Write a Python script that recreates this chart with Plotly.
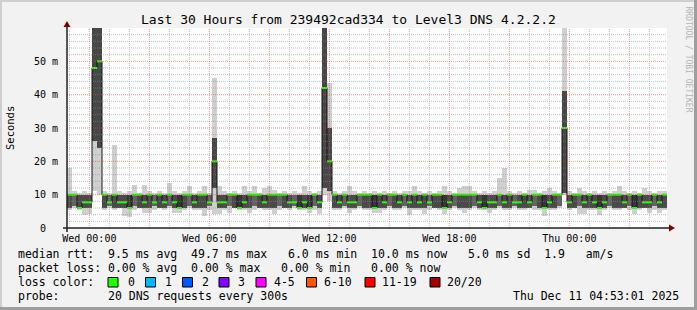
import plotly.graph_objects as go
from datetime import datetime, timedelta

# ---------------- data ----------------
T_START = datetime(2025, 12, 9, 22, 53, 1)
T_END = datetime(2025, 12, 11, 4, 53, 1)
STEP_MIN = 15  # one column per 15 minutes

median_ms = [
    10, 10, 6, 7.7, 7.7, 48, 50, 10, 7.7, 10,
    7.7, 7.7, 6, 10, 10, 7.7, 10, 7.7, 10, 7.7,
    10, 7.7, 6, 10, 10, 7.7, 10, 10, 7.7, 20,
    7.7, 7.7, 10, 10, 6, 7.7, 10, 10, 10, 7.7,
    10, 10, 10, 10, 7.7, 7.7, 6, 7.7, 6, 10,
    7.7, 42, 20, 10, 7.7, 10, 7.7, 7.7, 10, 10,
    10, 6, 10, 7.7, 10, 10, 7.7, 10, 7.7, 10,
    7.7, 10, 7.7, 10, 10, 6, 7.7, 10, 10, 10,
    10, 10, 7.7, 6, 7.7, 7.7, 10, 7.7, 10, 7.7,
    7.7, 10, 7.7, 10, 10, 6, 7.7, 10, 10, 30,
    7.7, 10, 10, 7.7, 10, 7.7, 6, 7.7, 10, 10,
    10, 7.7, 10, 6, 10, 7.7, 7.7, 10, 7.7, 10,
]

high_ms = [
    18, 11, 10.5, 11, 10.5, 65, 65, 11, 10.5, 25,
    11, 10.5, 11, 13, 10.5, 13, 11, 10.5, 11, 10.5,
    13.5, 11, 10.5, 11, 12.5, 10.5, 11, 12.5, 10.5, 45,
    12.7, 11, 10.5, 11, 10.5, 12.5, 11, 12.5, 10.5, 12,
    12.5, 11.5, 10.5, 11, 10.5, 11, 10.5, 12.5, 11, 10.5,
    11, 65, 43.5, 11, 10.5, 11, 12.5, 11, 10.5, 11,
    10.5, 11, 10.5, 11, 10.5, 11, 10.5, 11, 11, 12.5,
    11, 10.5, 11, 10.5, 11, 12.5, 11, 10.5, 12, 12.5,
    12.5, 11, 10.5, 11, 10.5, 11, 15, 18, 11, 10.5,
    11, 10.5, 11.5, 11.5, 10.5, 11, 12, 11, 10.5, 65,
    11, 10.5, 12, 11, 10.5, 11, 10.5, 11, 10.5, 11,
    12.7, 11, 10.5, 11, 10.5, 12, 11, 10.5, 11, 11,
]

low_ms = [
    5.5, 6, 5.5, 4, 4.2, 11, 10, 5.5, 6, 5.5,
    6, 3.5, 3.2, 5.5, 6, 4.5, 4.5, 5.5, 6, 5.5,
    6, 4.5, 4.5, 5.5, 6, 5.5, 5.5, 3.5, 5.5, 4.2,
    4.2, 5.5, 4.5, 6, 5.5, 5.5, 4.5, 5.5, 6, 5.5,
    5.5, 4.3, 5.5, 6, 5.5, 6, 5.5, 5.5, 4.6, 5.5,
    4.3, 10, 8, 5.5, 5.5, 6, 4.5, 5.5, 6, 5.5,
    5.5, 4.5, 4.5, 5.5, 6, 5.5, 5.5, 6, 3.8, 5.5,
    5.5, 4.3, 5.5, 6, 5.5, 4.3, 5.5, 6, 5.5, 4.5,
    5.5, 6, 5.5, 5.5, 4.4, 5.5, 6, 5.5, 5.5, 6,
    5.5, 5.5, 6, 5.5, 5.5, 3.5, 5.5, 5.5, 6, 10,
    5.5, 6, 4.3, 4.3, 5.5, 5.5, 4, 5.5, 6, 5.5,
    5.5, 6, 5.5, 4.3, 5.5, 6, 4.5, 5.5, 4.5, 5.5,
]

q1_ms = [
    6, 6.5, 6, 6, 6, 26, 24, 6, 6.5, 6,
    6, 6, 5.8, 6.5, 6, 6, 6, 6.5, 6, 6,
    6.5, 6, 5.8, 6, 6.5, 6, 6, 6, 6.5, 12,
    6, 6, 6.5, 6, 5.8, 6, 6, 6.5, 6, 6,
    6, 6, 6.5, 6, 6, 6.5, 5.8, 6, 5.8, 6.5,
    6, 12, 11, 6, 6, 6.5, 6, 6, 6.5, 6,
    6, 5.8, 6, 6, 6.5, 6, 6, 6.5, 6, 6,
    6, 6, 6.5, 6, 6, 5.8, 6, 6.5, 6, 6,
    6, 6.5, 6, 5.8, 6, 6, 6.5, 6, 6, 6.5,
    6, 6, 6, 6.5, 6, 5.8, 6, 6, 6.5, 10.5,
    6, 6, 6.5, 6, 6, 6, 5.8, 6, 6.5, 6,
    6, 6, 6.5, 5.8, 6, 6, 6, 6.5, 6, 6,
]

q3_ms = [
    10, 10, 10, 10, 10, 62, 62, 10, 10, 10,
    10, 10, 10, 10, 10, 10, 10, 10, 10, 10,
    10, 10, 10, 10, 10, 10, 10, 10, 10, 27,
    10, 10, 10, 10, 10, 10, 10, 10, 10, 10,
    10, 10, 10, 10, 10, 10, 10, 10, 10, 10,
    10, 62, 30, 10, 10, 10, 10, 10, 10, 10,
    10, 10, 10, 10, 10, 10, 10, 10, 10, 10,
    10, 10, 10, 10, 10, 10, 10, 10, 10, 10,
    10, 10, 10, 10, 10, 10, 10, 10, 10, 10,
    10, 10, 10, 10, 10, 10, 10, 10, 10, 41,
    10, 10, 10, 10, 10, 10, 10, 10, 10, 10,
    10, 10, 10, 10, 10, 10, 10, 10, 10, 10,
]

x_tick_times = [datetime(2025, 12, 10, 0), datetime(2025, 12, 10, 6), datetime(2025, 12, 10, 12),
                datetime(2025, 12, 10, 18), datetime(2025, 12, 11, 0)]
y_tick_values = [0, 10, 20, 30, 40, 50]
y_tick_labels = ["0\u00a0\u00a0", "10 m", "20 m", "30 m", "40 m", "50 m"]

title_text = "Last 30 Hours from 239492cad334 to Level3 DNS 4.2.2.2"
legend_lines = [
    "median rtt:  9.5 ms avg  49.7 ms max   6.0 ms min  10.0 ms now   5.0 ms sd  1.9   am/s",
    "packet loss: 0.00 % avg  0.00 % max   0.00 % min   0.00 % now",
    "loss color:",
    "probe:       20 DNS requests every 300s",
]
loss_labels = ["0", "1", "2", "3", "4-5", "6-10", "11-19", "20/20"]
loss_colors = ["#26ff00", "#00b8ff", "#0059ff", "#7e00ff", "#ff00ff", "#ff5500", "#ff0000", "#a10000"]
timestamp_text = "Thu Dec 11 04:53:01 2025"

# ---------------- layout geometry ----------------
W, H = 697, 310
PL, PR, PT, PB = 67, 30, 28, 82
PW, PH = W - PL - PR, H - PT - PB
FONT = "DejaVu Sans Mono"


def px(xp):
    return (xp - PL) / PW


def py(yp):
    return (PT + PH - yp) / PH


step = timedelta(minutes=STEP_MIN)
n = len(median_ms)
x_centers = [T_START + step * (i + 0.5) for i in range(n)]
x_edges = [T_START + step * i for i in range(n + 1)]
width_ms = STEP_MIN * 60 * 1000

fig = go.Figure()

# outer smoke (lightest)
fig.add_bar(x=x_centers, y=[h - l for h, l in zip(high_ms, low_ms)], base=low_ms,
            width=width_ms, marker=dict(color="#cfcfcf", line=dict(width=0)),
            hoverinfo="skip", showlegend=False)


def shade(a, b):
    s = b - a
    if s > 6:
        return "#474747"
    if s >= 4.1:
        return "#363636"
    if s >= 4:
        return "#4a4a4a"
    return "#626262"


# inner smoke (dark)
fig.add_bar(x=x_centers, y=[b - a for a, b in zip(q1_ms, q3_ms)], base=q1_ms,
            width=width_ms,
            marker=dict(color=[shade(a, b) for a, b in zip(q1_ms, q3_ms)], line=dict(width=0)),
            hoverinfo="skip", showlegend=False)

# median: dark vertical joins
vx, vy = [], []
for i in range(n - 1):
    vx += [x_edges[i + 1], x_edges[i + 1], None]
    vy += [median_ms[i], median_ms[i + 1], None]
fig.add_scatter(x=vx, y=vy, mode="lines", line=dict(color="#151515", width=1),
                hoverinfo="skip", showlegend=False)

# median: green (0 % loss) horizontal segments
gx, gy = [], []
for i in range(n):
    gx += [x_edges[i], x_edges[i + 1], None]
    gy += [median_ms[i], median_ms[i], None]
fig.add_scatter(x=gx, y=gy, mode="lines", line=dict(color=loss_colors[0], width=2),
                hoverinfo="skip", showlegend=False)

shapes = []
# grid on top of the data (as rrdtool does)
MINOR = "rgba(140,140,140,0.55)"
MAJOR = "rgba(225,70,70,0.55)"
t = datetime(T_START.year, T_START.month, T_START.day, T_START.hour) + timedelta(hours=1)
while t < T_END:
    shapes.append(dict(type="line", xref="x", yref="paper", x0=t, x1=t, y0=0, y1=1, layer="above",
                       line=dict(color=MAJOR if t.hour % 3 == 0 else MINOR, width=1, dash="1px,1px")))
    t += timedelta(hours=1)
for v in range(2, 60, 2):
    shapes.append(dict(type="line", xref="paper", yref="y", x0=0, x1=1, y0=v, y1=v, layer="above",
                       line=dict(color=MAJOR if v % 10 == 0 else MINOR, width=1, dash="1px,1px")))

AXIS = "#212121"
ARROW = "#800000"
# axis lines and arrows
shapes.append(dict(type="line", xref="paper", yref="paper", x0=px(63), x1=px(671), y0=py(228), y1=py(228),
                   line=dict(color=AXIS, width=1.5), layer="above"))
shapes.append(dict(type="line", xref="paper", yref="paper", x0=px(67), x1=px(67), y0=py(232), y1=py(25),
                   line=dict(color=AXIS, width=1.5), layer="above"))
shapes.append(dict(type="path", xref="paper", yref="paper", layer="above",
                   path=f"M {px(63.5)},{py(27)} L {px(70.5)},{py(27)} L {px(67)},{py(21)} Z",
                   fillcolor=ARROW, line=dict(width=0)))
shapes.append(dict(type="path", xref="paper", yref="paper", layer="above",
                   path=f"M {px(669)},{py(224.5)} L {px(669)},{py(231.5)} L {px(675)},{py(228)} Z",
                   fillcolor=ARROW, line=dict(width=0)))

# 3D frame
shapes.append(dict(type="rect", xref="paper", yref="paper", x0=px(0), x1=px(W), y0=py(0), y1=py(2),
                   fillcolor="#cfcfcf", line=dict(width=0), layer="below"))
shapes.append(dict(type="rect", xref="paper", yref="paper", x0=px(0), x1=px(2), y0=py(0), y1=py(H),
                   fillcolor="#cfcfcf", line=dict(width=0), layer="below"))
shapes.append(dict(type="rect", xref="paper", yref="paper", x0=px(0), x1=px(W), y0=py(H - 3), y1=py(H),
                   fillcolor="#9e9e9e", line=dict(width=0), layer="below"))
shapes.append(dict(type="rect", xref="paper", yref="paper", x0=px(W - 3), x1=px(W), y0=py(0), y1=py(H),
                   fillcolor="#9e9e9e", line=dict(width=0), layer="below"))

# loss colour swatches
swatch_left = [108, 145.5, 182.5, 219, 256, 306.5, 365, 430]
label_left = [126, 162.5, 199.5, 235.5, 272, 322, 379.5, 445]
annotations = []
for c, xl, lab, xt in zip(loss_colors, swatch_left, loss_labels, label_left):
    shapes.append(dict(type="rect", xref="paper", yref="paper", x0=px(xl), x1=px(xl + 10),
                       y0=py(287), y1=py(277.5), fillcolor=c, line=dict(color="#000000", width=1)))
    annotations.append(dict(text=lab, x=px(xt), y=py(282), xref="paper", yref="paper",
                            xanchor="left", yanchor="middle", showarrow=False,
                            font=dict(family=FONT, size=11.5, color="#000")))


def nb(s):
    return s.replace(" ", "\u00a0")


annotations.append(dict(text=nb(title_text), x=px(348.5), y=py(19), xref="paper", yref="paper",
                        xanchor="center", yanchor="middle", showarrow=False,
                        font=dict(family=FONT, size=13, color="#000")))
annotations.append(dict(text="Seconds", x=px(10), y=py(128), xref="paper", yref="paper",
                        xanchor="center", yanchor="middle", showarrow=False, textangle=-90,
                        font=dict(family=FONT, size=10.5, color="#000")))
annotations.append(dict(text=nb("RRDTOOL / TOBI OETIKER"), x=px(688.5), y=py(59), xref="paper", yref="paper",
                        xanchor="center", yanchor="middle", showarrow=False, textangle=90,
                        font=dict(family=FONT, size=8, color="#b4b4b4")))
for k, line in enumerate(legend_lines):
    annotations.append(dict(text=nb(line), x=px(16), y=py(254 + 14 * k), xref="paper", yref="paper",
                            xanchor="left", yanchor="middle", showarrow=False,
                            font=dict(family=FONT, size=11.5, color="#000")))
annotations.append(dict(text=nb(timestamp_text), x=px(680.5), y=py(296), xref="paper", yref="paper",
                        xanchor="right", yanchor="middle", showarrow=False,
                        font=dict(family=FONT, size=11.5, color="#000")))

fig.update_layout(
    width=W, height=H, autosize=False,
    margin=dict(l=PL, r=PR, t=PT, b=PB, pad=0),
    paper_bgcolor="#f2f2f2", plot_bgcolor="#ffffff",
    barmode="overlay", bargap=0,
    font=dict(family=FONT, size=10, color="#000"),
    showlegend=False,
    shapes=shapes, annotations=annotations,
    xaxis=dict(type="date", range=[T_START, T_END], showgrid=False, zeroline=False, showline=False,
               tickvals=x_tick_times, tickformat="%a %H:%M", ticks="", ticklabelstandoff=3,
               tickfont=dict(family=FONT, size=10, color="#000"), fixedrange=True),
    yaxis=dict(range=[0, 60], showgrid=False, zeroline=False, showline=False,
               tickvals=y_tick_values, ticktext=y_tick_labels, ticks="", ticklabelstandoff=8,
               tickfont=dict(family=FONT, size=10, color="#000"), fixedrange=True),
)

fig.write_html("out.html")
